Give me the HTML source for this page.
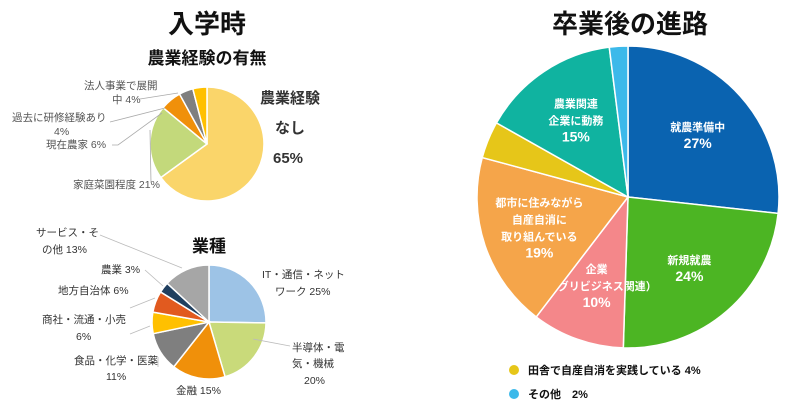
<!DOCTYPE html>
<html><head><meta charset="utf-8"><style>
html,body{margin:0;padding:0;background:#fff;}
svg{display:block;font-family:"Liberation Sans","Noto Sans CJK JP",sans-serif;}
</style></head><body>
<svg id="s" width="800" height="411" viewBox="0 0 800 411">
<text x="207" y="33" font-size="26" font-weight="bold" text-anchor="middle" fill="#111">入学時</text>
<text x="207" y="64" font-size="17" font-weight="bold" text-anchor="middle" fill="#111">農業経験の有無</text>
<text x="209" y="252" font-size="17" font-weight="bold" text-anchor="middle" fill="#111">業種</text>
<text x="630" y="33" font-size="26" font-weight="bold" text-anchor="middle" fill="#111">卒業後の進路</text>
<g id="p1"></g><g id="p2"></g><g id="p3"></g>
<g font-size="10.5" fill="#555">
<text x="84" y="89">法人事業で展開</text><text x="112" y="103">中 4%</text>
<text x="12" y="121">過去に研修経験あり</text><text x="54" y="135">4%</text>
<text x="46" y="148">現在農家 6%</text>
<text x="73" y="188">家庭菜園程度 21%</text>
</g>
<g fill="none" stroke="#aaa" stroke-width="0.8">
<polyline points="140,99 178,93"/><polyline points="110,122 165,108"/><polyline points="112,145 118,145 162,113"/><polyline points="151,183 150,130"/>
</g>
<g font-size="15" font-weight="bold" fill="#333">
<text x="260" y="103">農業経験</text><text x="275" y="133">なし</text><text x="273" y="163">65%</text>
</g>
<g font-size="10.5" fill="#333">
<text x="36" y="236">サービス・そ</text><text x="42" y="253">の他 13%</text>
<text x="101" y="273">農業 3%</text>
<text x="58" y="294">地方自治体 6%</text>
<text x="42" y="323">商社・流通・小売</text><text x="76" y="340">6%</text>
<text x="74" y="364">食品・化学・医薬</text><text x="106" y="380">11%</text>
<text x="176" y="394">金融 15%</text>
<text x="262" y="278">IT・通信・ネット</text><text x="275" y="295">ワーク 25%</text>
<text x="292" y="351">半導体・電</text><text x="292" y="367">気・機械</text><text x="304" y="384">20%</text>
</g>
<g fill="none" stroke="#bbb" stroke-width="0.8">
<polyline points="100,235 182,268"/><polyline points="145,270 163,286"/><polyline points="130,308 155,298"/><polyline points="130,334 150,326"/><polyline points="158,367 158,357"/><polyline points="253,339 290,346"/>
</g>
<g font-size="11" font-weight="bold" fill="#111">
<circle cx="514" cy="370" r="5" fill="#E6C619"/>
<text x="528" y="374">田舎で自産自消を実践している 4%</text>
<circle cx="514" cy="394" r="5" fill="#3CB9EA"/>
<text x="528" y="398">その他　2%</text>
</g>
</svg>
<script>
const expCats=["経験なし","家庭菜園程度","現在農家","過去に研修経験あり","法人事業で展開中"];
const expVals=[65,21,6,4,4];
const expColors=["#FAD56A","#C3D97B","#F0900A","#7F7F7F","#FFC000"];
const indCats=["IT・通信・ネットワーク","半導体・電気・機械","金融","食品・化学・医薬","商社・流通・小売","地方自治体","農業","サービス・その他"];
const indVals=[25,20,15,11,6,6,3,13];
const indColors=["#9DC3E6","#C9DA7A","#F0900A","#7F7F7F","#FFC000","#E15A1F","#1F3F5F","#A6A6A6"];
const destCats=["就農準備中","新規就農","企業(アグリビジネス関連)","都市に住みながら自産自消","田舎で自産自消","農業関連企業に勤務","その他"];
const destVals=[27,24,10,19,4,15,2];
const destColors=["#0A63B0","#4CB523","#F4878A","#F5A54A","#E6C619","#10B3A0","#3CB9EA"];
const destLabels=[["就農準備中","27%"],["新規就農","24%"],["企業","（アグリビジネス関連）","10%"],["都市に住みながら","自産自消に","取り組んでいる","19%"],null,["農業関連","企業に動務","15%"],null];
const NS="http://www.w3.org/2000/svg";
function pie(gid,cats,vals,colors,cx,cy,r,stroke,labels){
  const g=document.getElementById(gid);
  const tot=vals.reduce((a,b)=>a+b,0);
  let a0=0;
  vals.forEach((v,i)=>{
    const a1=a0+v/tot*2*Math.PI;
    const x0=cx+r*Math.sin(a0),y0=cy-r*Math.cos(a0),x1=cx+r*Math.sin(a1),y1=cy-r*Math.cos(a1);
    const p=document.createElementNS(NS,"path");
    p.setAttribute("d",`M${cx},${cy}L${x0},${y0}A${r},${r} 0 ${(a1-a0)>Math.PI?1:0} 1 ${x1},${y1}Z`);
    p.setAttribute("fill",colors[i]);
    p.setAttribute("stroke",stroke);p.setAttribute("stroke-width","1.5");
    
    
    g.appendChild(p);
    if(labels&&labels[i]){
      const am=(a0+a1)/2,lr=r*0.62;
      const lx=cx+lr*Math.sin(am),ly=cy-lr*Math.cos(am);
      const lines=labels[i];
      lines.forEach((s,k)=>{
        const t=document.createElementNS(NS,"text");
        t.setAttribute("x",lx);t.setAttribute("y",ly+(k-(lines.length-1)/2)*17+5);
        t.setAttribute("text-anchor","middle");t.setAttribute("fill","#fff");
        t.setAttribute("font-weight","bold");
        t.setAttribute("font-size",k==lines.length-1?"14":"11");
        t.textContent=s;
        
        
        g.appendChild(t);
      });
    }
    a0=a1;
  });
}
pie("p1",expCats,expVals,expColors,207,144,57,"#fff",null);
pie("p2",indCats,indVals,indColors,209,322,57,"#fff",null);
pie("p3",destCats,destVals,destColors,628,197,151,"#fff",destLabels);
</script>
</body></html>
